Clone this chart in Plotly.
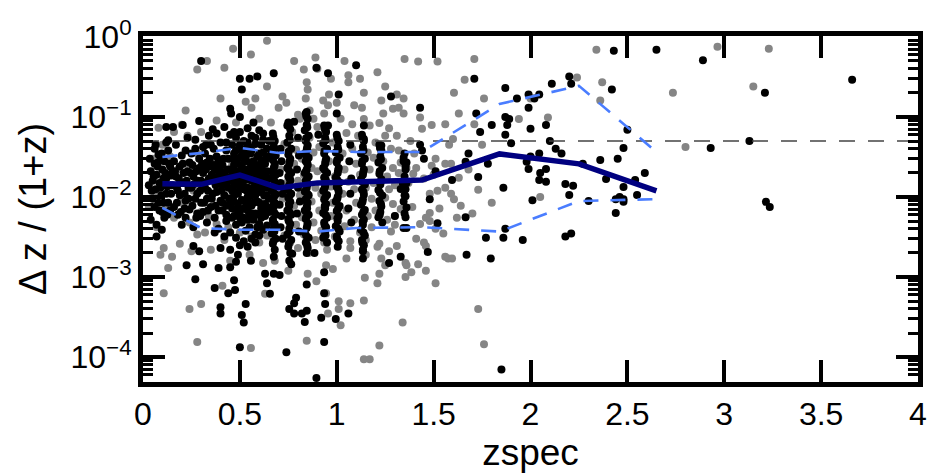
import plotly.graph_objects as go

# ---------------- data ----------------
# binned statistics (zspec, dz/(1+z))
bin_z = [0.1, 0.3, 0.5, 0.7, 0.9, 1.1, 1.44, 1.84, 2.25, 2.65]
median_dz = [0.0146, 0.0144, 0.0188, 0.0130, 0.0150, 0.0154, 0.0163, 0.0345, 0.0259, 0.0119]
upper_dz = [0.0316, 0.0355, 0.041, 0.0355, 0.0376, 0.0365, 0.0365, 0.145, 0.244, 0.0365]
lower_dz = [0.0073, 0.0041, 0.0039, 0.0039, 0.0037, 0.0041, 0.0042, 0.0037, 0.0089, 0.0094]

outlier_z = [0, 4]
outlier_dz = [0.05, 0.05]

# grey sample points (zspec, dz/(1+z))
grey_points = [
(0.465,0.71),(0.557,0.60),(0.33,0.50),(0.28,0.39),(0.42,0.41),(0.40,0.17),(0.22,0.12),(0.53,0.155),(0.58,0.17),(0.56,0.13),
(0.64,0.24),(0.08,0.073),(0.23,0.058),(0.107,0.0023),(0.107,0.00063),(0.24,0.0004),(0.30,0.00046),(0.28,0.000155),(0.557,0.00013),
(0.63,0.00062),(0.41,0.00078),(0.78,0.5),(0.89,0.55),(1.04,0.5),(0.90,0.40),(0.83,0.39),(1.06,0.33),(1.06,0.27),(1.21,0.36),
(0.845,0.27),(0.85,0.22),(0.84,0.17),(0.93,0.16),(0.955,0.14),(0.935,0.11),(1.14,0.2),(1.25,0.24),(0.74,0.15),(1.09,0.14),
(1.14,0.094),(1.08,0.081),(1.24,0.11),(1.22,0.084),(1.25,0.058),(0.80,0.106),(0.945,0.071),(0.93,0.06),(0.845,0.003),(0.935,0.0027),
(0.855,0.002),(0.945,0.0014),(0.98,0.00126),(0.895,0.00089),(0.945,0.00063),(1.07,0.0023),(1.15,0.0029),(1.23,0.0017),(1.25,0.0014),
(1.22,0.0011),(1.21,0.00084),(1.145,0.00098),(1.14,0.00051),(1.01,0.0005),(1.01,0.0004),(0.955,0.00035),(1.02,0.00025),(1.07,0.00047),
(0.845,0.00016),(1.22,0.00014),(1.14,0.000094),(1.17,0.000094),(0.64,0.89),(1.29,0.126),
(1.35,0.53),(1.42,0.49),(1.52,0.49),(1.71,0.53),(1.66,0.29),(1.605,0.20),(1.76,0.17),(1.31,0.19),(1.345,0.17),(1.32,0.13),
(1.345,0.11),(1.43,0.098),(1.44,0.071),(1.49,0.079),(1.56,0.081),(1.63,0.11),(1.71,0.081),(1.31,0.058),(1.60,0.053),(1.94,0.094),
(1.32,0.038),(1.33,0.027),(1.36,0.023),(1.32,0.02),(1.395,0.0195),(1.37,0.015),(1.41,0.023),(1.49,0.0245),(1.51,0.03),(1.56,0.026),
(1.59,0.026),(1.52,0.012),(1.56,0.013),(1.59,0.011),(1.48,0.011),(1.605,0.0094),(1.48,0.0063),(1.46,0.0055),(1.48,0.005),(1.64,0.0078),
(1.70,0.0062),(1.63,0.0174),(1.73,0.0123),(1.39,0.0075),(1.33,0.0071),(1.30,0.0058),(1.43,0.0046),(1.51,0.004),(1.41,0.003),(1.45,0.0027),
(1.46,0.00245),(1.31,0.00245),(1.56,0.0018),(1.575,0.0017),(1.595,0.0017),(1.355,0.0015),(1.36,0.0014),(1.42,0.00145),(1.385,0.00115),
(1.355,0.001),(1.46,0.0012),(1.51,0.00084),(1.73,0.0004),(1.34,0.00027),(1.76,0.000145),
(2.34,0.69),(2.24,0.31),(2.37,0.27),(2.36,0.16),(2.0,0.17),(2.09,0.098),(2.05,0.01),(2.965,0.75),(3.23,0.71),(2.735,0.20),(3.15,0.24),(2.80,0.042),
(0.05,0.03),(0.07,0.011),(0.1,0.045),(0.12,0.0075),(0.14,0.032),(0.16,0.0055),(0.18,0.022),(0.2,0.0085),(0.22,0.026),(0.24,0.0048),
(0.26,0.012),(0.28,0.035),(0.3,0.0065),(0.32,0.0036),(0.34,0.0115),(0.36,0.03),(0.38,0.0046),(0.4,0.0155),(0.42,0.0029),(0.44,0.0098),
(0.46,0.025),(0.48,0.0062),(0.5,0.0036),(0.52,0.014),(0.54,0.0052),(0.56,0.0032),(0.58,0.018),(0.6,0.0027),(0.62,0.0088),(0.64,0.0033),
(0.13,0.0013),(0.15,0.0018),(0.19,0.0026),(0.25,0.0021),(0.35,0.0022),(0.45,0.0016),(0.55,0.0019),(0.62,0.0015),(0.2,0.08),(0.3,0.065),
(0.38,0.09),(0.48,0.085),(0.6,0.095),(0.07,0.0042),(0.09,0.0019),(0.03,0.0075),(0.16,0.065),(0.44,0.0042),(0.34,0.0058),(0.28,0.0034),
(0.66,0.085),(0.69,0.0042),(0.70,0.13),(0.71,0.022),(0.72,0.0095),(0.73,0.046),(0.73,0.0033),(0.74,0.015),(0.76,0.0027),(0.77,0.065),
(0.78,0.026),(0.78,0.0078),(0.79,0.0045),(0.79,0.039),(0.80,0.016),(0.80,0.0023),(0.81,0.095),(0.81,0.0105),(0.82,0.03),(0.82,0.0056),
(0.83,0.019),(0.83,0.0034),(0.86,0.12),(0.86,0.055),(0.87,0.023),(0.87,0.0088),(0.88,0.0048),(0.88,0.036),(0.89,0.013),(0.89,0.0029),
(0.90,0.075),(0.90,0.021),(0.91,0.0068),(0.91,0.042),(0.92,0.011),(0.92,0.0038),(0.96,0.19),(0.96,0.028),(0.97,0.0135),(0.97,0.0058),
(0.98,0.048),(0.98,0.0085),(0.99,0.0032),(0.99,0.018),(1.02,0.095),(1.03,0.035),(1.03,0.011),(1.04,0.0043),(1.04,0.022),(1.05,0.063),
(1.05,0.0068),(1.06,0.0155),(1.07,0.0028),(1.08,0.04),(1.09,0.0125),(1.09,0.0052),(1.10,0.026),(1.10,0.0085),(1.11,0.058),(1.12,0.0036),
(1.12,0.019),(1.15,0.013),(1.16,0.036),(1.16,0.0058),(1.17,0.078),(1.17,0.022),(1.18,0.0095),(1.18,0.0042),(1.19,0.031),(1.19,0.015),
(1.20,0.0068),(1.20,0.048),(1.21,0.0024),(1.24,0.028),(1.25,0.0098),(1.26,0.018),(1.26,0.0052),(1.27,0.072),(1.27,0.0125),(1.28,0.0037),
(1.28,0.04),(1.29,0.0082),(1.29,0.023),(1.30,0.014),(1.30,0.0045),(0.68,0.0016),(0.75,0.0012),(0.85,0.0011),(0.95,0.0022),(1.05,0.0017),
(1.15,0.0019),(1.22,0.0026),(1.27,0.0021),(0.72,0.18),(0.88,0.095),(1.0,0.15),(1.13,0.13),(1.23,0.16),(0.97,0.3),(1.12,0.3),
(1.38,0.05),(1.4,0.035),(1.45,0.017),(1.5,0.019),(1.53,0.0072),(1.55,0.0035),(1.58,0.045),(1.62,0.0055),(1.68,0.022),(1.75,0.045),(1.8,0.0085),
]

# black sample points (zspec, dz/(1+z))
black_points = [
# sparse points
(0.30,0.50),(0.50,0.30),(0.55,0.30),(0.59,0.32),(0.51,0.22),(0.45,0.126),(0.455,0.11),(0.50,0.10),(0.29,0.089),(0.205,0.079),
(0.155,0.075),(0.12,0.075),(0.13,0.051),(0.077,0.027),(0.097,0.035),(0.097,0.0039),(0.07,0.0032),(0.26,0.00245),(0.29,0.0021),(0.40,0.0023),
(0.45,0.0022),(0.49,0.0019),(0.225,0.0014),(0.31,0.00145),(0.39,0.0013),(0.45,0.00133),(0.48,0.00155),(0.557,0.0016),(0.63,0.0011),(0.27,0.00094),
(0.47,0.00091),(0.475,0.00069),(0.44,0.00063),(0.37,0.00073),(0.40,0.00042),(0.40,0.00035),(0.53,0.00046),(0.51,0.000335),(0.52,0.00027),(0.50,0.000133),
(0.64,0.00084),(0.675,0.35),(0.895,0.41),(0.955,0.35),(1.10,0.44),(1.01,0.19),(1.28,0.18),(0.845,0.115),(1.0,0.11),(0.745,0.078),
(0.78,0.087),(0.955,0.078),(0.905,0.06),(1.14,0.078),(1.14,0.053),(1.23,0.044),(0.845,0.00081),(0.79,0.00055),(0.78,0.00047),(0.755,0.0004),
(0.78,0.00035),(0.82,0.00035),(0.845,0.00038),(0.835,0.000275),(0.935,0.00063),(0.94,0.00046),(0.92,0.00031),(0.995,0.0003),(1.06,0.00035),(0.655,0.00062),
(0.705,0.00106),(0.675,0.0011),(0.765,0.00145),(0.77,0.00195),(0.935,0.00115),(0.885,0.002),(1.135,0.0022),(1.135,0.0017),(1.27,0.0015),(0.935,0.000155),
(0.74,0.000115),(0.895,0.000055),
(1.71,0.30),(1.87,0.23),(1.93,0.17),(1.43,0.13),(1.72,0.11),(1.80,0.079),(1.74,0.065),(1.87,0.1),(1.89,0.094),(1.88,0.079),
(1.87,0.06),(1.90,0.047),(1.43,0.045),(1.44,0.038),(1.45,0.03),(1.36,0.027),(1.345,0.031),(1.355,0.024),(1.68,0.035),(1.665,0.0275),
(1.78,0.026),(1.51,0.021),(1.73,0.0178),(1.595,0.0163),(1.33,0.0126),(1.355,0.0102),(1.36,0.015),(1.48,0.0094),(1.86,0.013),(1.30,0.0058),
(1.355,0.0056),(1.665,0.0056),(1.52,0.0047),(1.345,0.0041),(1.36,0.0041),(1.47,0.00205),(1.33,0.0018),(1.67,0.0019),(1.795,0.0017),(1.77,0.0031),
(1.86,0.0031),(1.87,0.004),(1.96,0.0029),(1.85,0.00007),
(2.43,0.67),(2.65,0.69),(2.20,0.32),(2.21,0.26),(2.11,0.26),(2.42,0.22),(1.99,0.19),(2.02,0.17),(2.045,0.19),(1.99,0.13),
(2.08,0.079),(2.0,0.071),(2.5,0.069),(2.10,0.05),(2.48,0.041),(2.13,0.04),(2.16,0.035),(2.045,0.035),(2.0,0.032),(1.98,0.0275),
(1.99,0.0224),(2.08,0.0224),(2.05,0.02),(2.045,0.0163),(2.08,0.0155),(2.36,0.029),(2.45,0.03),(2.27,0.026),(2.39,0.0168),(2.59,0.02),
(2.54,0.0163),(2.18,0.0145),(2.22,0.0138),(2.20,0.0106),(2.01,0.0091),(2.30,0.0089),(2.44,0.0094),(2.46,0.01),(2.48,0.0094),(2.48,0.0087),
(2.48,0.0133),(2.55,0.0106),(2.44,0.0063),(2.18,0.0032),(2.21,0.0035),
(2.89,0.51),(3.66,0.29),(3.21,0.2),(3.13,0.05),(2.93,0.041),(3.215,0.0087),(3.235,0.0075),
# dense low-z clump
(0.04,0.021),(0.05,0.016),(0.045,0.012),(0.06,0.026),(0.07,0.019),(0.08,0.034),(0.065,0.045),(0.09,0.013),(0.10,0.022),(0.11,0.028),
(0.12,0.017),(0.05,0.0095),(0.06,0.0075),(0.08,0.0085),(0.10,0.0065),(0.04,0.0052),(0.07,0.0045),(0.12,0.011),(0.13,0.038),(0.14,0.024),
(0.15,0.014),(0.09,0.031),(0.11,0.0055),(0.13,0.0085),(0.06,0.04),(0.14,0.0068),(0.03,0.014),(0.035,0.03),(0.15,0.02),(0.12,0.048),
(0.16,0.028),(0.17,0.018),(0.18,0.012),(0.19,0.024),(0.2,0.033),(0.21,0.015),(0.22,0.009),(0.23,0.021),(0.24,0.027),(0.25,0.013),
(0.26,0.018),(0.27,0.04),(0.28,0.011),(0.29,0.023),(0.3,0.016),(0.16,0.0075),(0.18,0.006),(0.2,0.0045),(0.22,0.0055),(0.24,0.007),
(0.26,0.0042),(0.28,0.0062),(0.3,0.0085),(0.17,0.045),(0.23,0.055),(0.25,0.035),(0.19,0.0105),(0.27,0.0095),(0.29,0.03),(0.21,0.02),
(0.27,0.052),(0.22,0.038),
(0.31,0.02),(0.32,0.013),(0.33,0.027),(0.34,0.017),(0.35,0.045),(0.36,0.011),(0.37,0.022),(0.38,0.032),(0.39,0.015),(0.4,0.009),
(0.41,0.025),(0.42,0.019),(0.43,0.038),(0.44,0.013),(0.45,0.06),(0.31,0.0065),(0.33,0.0048),(0.35,0.0075),(0.37,0.0055),(0.39,0.004),
(0.41,0.0068),(0.43,0.005),(0.45,0.0085),(0.32,0.035),(0.34,0.058),(0.36,0.07),(0.38,0.062),(0.4,0.048),(0.42,0.075),(0.44,0.03),
(0.33,0.0095),(0.36,0.016),(0.38,0.0115),(0.4,0.021),(0.42,0.0105),(0.44,0.0175),(0.35,0.024),(0.41,0.014),(0.43,0.0078),(0.31,0.042),
(0.39,0.028),(0.45,0.022),(0.37,0.0036),(0.42,0.0032),
(0.46,0.02),(0.47,0.014),(0.48,0.026),(0.49,0.011),(0.5,0.017),(0.51,0.033),(0.52,0.009),(0.53,0.022),(0.54,0.013),(0.55,0.042),
(0.56,0.016),(0.57,0.028),(0.58,0.0105),(0.59,0.019),(0.6,0.024),(0.61,0.012),(0.62,0.036),(0.63,0.015),(0.64,0.021),(0.65,0.0095),
(0.46,0.0072),(0.47,0.0058),(0.48,0.0045),(0.49,0.0082),(0.5,0.0065),(0.51,0.0048),(0.52,0.0055),(0.53,0.0038),(0.54,0.0068),(0.55,0.0042),
(0.56,0.0078),(0.57,0.0052),(0.58,0.0034),(0.59,0.0061),(0.6,0.0046),(0.61,0.0072),(0.62,0.0039),(0.63,0.0058),(0.64,0.0044),
(0.46,0.045),(0.48,0.055),(0.5,0.065),(0.52,0.05),(0.54,0.072),(0.56,0.058),(0.58,0.046),(0.6,0.068),(0.62,0.052),(0.64,0.04),
(0.47,0.035),(0.49,0.03),(0.51,0.025),(0.53,0.031),(0.55,0.027),(0.57,0.02),(0.59,0.032),(0.61,0.029),(0.63,0.026),
(0.46,0.012),(0.48,0.016),(0.5,0.0135),(0.52,0.018),(0.54,0.01),(0.56,0.023),(0.58,0.014),(0.6,0.0115),(0.62,0.017),(0.64,0.013),
(0.47,0.0088),(0.51,0.0092),(0.55,0.0085),(0.59,0.0088),(0.63,0.0082),(0.48,0.0031),(0.52,0.0028),(0.56,0.003),(0.6,0.0033),(0.5,0.0025),
(0.54,0.0024),(0.58,0.0027),
(0.385,0.018),(0.395,0.024),(0.405,0.012),(0.415,0.03),(0.425,0.015),(0.435,0.022),(0.445,0.0095),(0.455,0.016),(0.465,0.03),(0.475,0.021),
(0.485,0.0115),(0.495,0.04),(0.505,0.022),(0.515,0.015),(0.525,0.028),(0.535,0.012),(0.545,0.019),(0.555,0.035),(0.565,0.0125),(0.575,0.016),
(0.585,0.025),(0.595,0.014),(0.605,0.018),(0.615,0.022),(0.625,0.0105),(0.635,0.03),(0.645,0.017),(0.39,0.0068),(0.41,0.0085),(0.43,0.006),
(0.47,0.0105),(0.49,0.0068),(0.53,0.0075),(0.57,0.0085),(0.61,0.0055),(0.65,0.0065),(0.45,0.0036),(0.55,0.0058),(0.59,0.0042),(0.43,0.048),
(0.47,0.065),(0.53,0.04),(0.57,0.085),(0.61,0.045),(0.65,0.05),
(0.055,0.018),(0.075,0.024),(0.085,0.015),(0.095,0.0105),(0.105,0.017),(0.115,0.02),(0.125,0.0135),(0.135,0.026),(0.145,0.011),(0.065,0.0125),
(0.085,0.0068),(0.105,0.0085),(0.125,0.006),(0.145,0.0185),
(0.165,0.021),(0.175,0.013),(0.185,0.017),(0.195,0.015),(0.205,0.026),(0.215,0.011),(0.225,0.016),(0.235,0.013),(0.245,0.02),(0.255,0.025),
(0.265,0.0145),(0.275,0.021),(0.285,0.016),(0.295,0.012),(0.175,0.0085),(0.195,0.0065),(0.215,0.0072),(0.235,0.0095),(0.255,0.0078),(0.275,0.0055),
(0.295,0.0058),
(0.305,0.026),(0.315,0.015),(0.325,0.022),(0.335,0.012),(0.345,0.03),(0.355,0.019),(0.365,0.025),(0.375,0.014),(0.315,0.0085),(0.335,0.0068),
(0.355,0.0095),(0.375,0.0078),(0.325,0.045),(0.365,0.04),
(0.46,0.0165),(0.48,0.0195),(0.5,0.021),(0.52,0.0125),(0.54,0.0165),(0.56,0.0105),(0.58,0.021),(0.6,0.0145),(0.62,0.0135),(0.64,0.0105),
(0.47,0.025),(0.51,0.019),(0.55,0.0215),(0.59,0.0225),(0.63,0.019),(0.49,0.015),(0.53,0.017),(0.57,0.013),(0.61,0.0165),(0.5,0.0055),
(0.54,0.0052),(0.58,0.0062),(0.62,0.0068),(0.46,0.0055),(0.52,0.0072),(0.56,0.0062),(0.6,0.0085),(0.64,0.0075),(0.48,0.038),(0.52,0.036),
(0.56,0.038),(0.6,0.035),(0.64,0.032),(0.5,0.045),(0.54,0.048),(0.58,0.055),(0.62,0.062),
# redshift spikes
(0.67,0.062),(0.68,0.05),(0.675,0.043),(0.665,0.037),(0.685,0.033),(0.67,0.029),(0.68,0.026),(0.675,0.023),(0.665,0.021),(0.685,0.019),
(0.67,0.017),(0.68,0.015),(0.675,0.0135),(0.665,0.012),(0.685,0.0108),(0.67,0.0095),(0.68,0.0085),(0.675,0.0076),(0.665,0.0067),(0.685,0.006),
(0.67,0.0052),(0.68,0.0046),(0.675,0.004),(0.665,0.0035),(0.685,0.003),(0.67,0.0026),(0.68,0.0022),(0.675,0.0018),
(0.673,0.056),(0.678,0.04),(0.672,0.031),(0.679,0.0245),(0.671,0.02),(0.677,0.016),(0.672,0.0127),(0.678,0.0102),(0.673,0.008),(0.677,0.0064),
(0.672,0.0049),(0.678,0.0037),(0.673,0.0028),
(0.71,0.04),(0.715,0.028),(0.705,0.02),(0.71,0.015),(0.72,0.011),(0.705,0.008),(0.715,0.0058),(0.71,0.0042),(0.72,0.003),
(0.75,0.085),(0.76,0.07),(0.755,0.058),(0.745,0.048),(0.765,0.04),(0.75,0.034),(0.76,0.03),(0.755,0.026),(0.745,0.023),(0.765,0.02),
(0.75,0.018),(0.76,0.016),(0.755,0.014),(0.745,0.0125),(0.765,0.011),(0.75,0.0098),(0.76,0.0087),(0.755,0.0077),(0.745,0.0068),(0.765,0.006),
(0.75,0.0053),(0.76,0.0046),(0.755,0.004),(0.745,0.0034),(0.765,0.0029),(0.75,0.0024),(0.76,0.002),(0.755,0.0016),
(0.753,0.078),(0.758,0.052),(0.752,0.037),(0.757,0.028),(0.753,0.0215),(0.758,0.017),(0.752,0.0132),(0.757,0.0104),(0.753,0.0082),(0.758,0.0064),
(0.752,0.005),(0.757,0.0037),(0.753,0.0026),
(0.80,0.055),(0.805,0.033),(0.795,0.022),(0.80,0.013),(0.81,0.0088),(0.795,0.0062),(0.805,0.0037),
(0.84,0.11),(0.85,0.095),(0.845,0.08),(0.835,0.068),(0.855,0.058),(0.84,0.05),(0.85,0.044),(0.845,0.039),(0.835,0.035),(0.855,0.031),
(0.84,0.028),(0.85,0.025),(0.845,0.022),(0.835,0.02),(0.855,0.018),(0.84,0.016),(0.85,0.0145),(0.845,0.013),(0.835,0.0117),(0.855,0.0105),
(0.84,0.0094),(0.85,0.0085),(0.845,0.0076),(0.835,0.0068),(0.855,0.006),(0.84,0.0053),(0.85,0.0047),(0.845,0.0041),(0.835,0.0036),(0.855,0.0031),
(0.84,0.0027),(0.85,0.0023),(0.845,0.002),
(0.843,0.102),(0.848,0.074),(0.842,0.054),(0.847,0.041),(0.843,0.033),(0.848,0.0265),(0.842,0.021),(0.847,0.017),(0.843,0.0137),(0.848,0.011),
(0.842,0.009),(0.847,0.0072),(0.843,0.0056),(0.848,0.0044),(0.842,0.0033),(0.847,0.0025),
(0.935,0.078),(0.945,0.065),(0.94,0.055),(0.93,0.047),(0.95,0.04),(0.935,0.035),(0.945,0.03),(0.94,0.026),(0.93,0.023),(0.95,0.02),
(0.935,0.0175),(0.945,0.0155),(0.94,0.0137),(0.93,0.012),(0.95,0.0106),(0.935,0.0093),(0.945,0.0082),(0.94,0.0072),(0.93,0.0063),(0.95,0.0055),
(0.935,0.0048),(0.945,0.0042),(0.94,0.0036),(0.93,0.0031),(0.95,0.0027),
(0.938,0.071),(0.943,0.051),(0.937,0.0375),(0.942,0.028),(0.938,0.0215),(0.943,0.0165),(0.937,0.0128),(0.942,0.01),(0.938,0.0077),(0.943,0.0059),
(0.937,0.0045),(0.942,0.0033),
(1.0,0.06),(1.01,0.05),(1.005,0.042),(0.995,0.036),(1.015,0.031),(1.0,0.027),(1.01,0.023),(1.005,0.02),(0.995,0.0175),(1.015,0.0152),
(1.0,0.0133),(1.01,0.0116),(1.005,0.0101),(0.995,0.0088),(1.015,0.0077),(1.0,0.0067),(1.01,0.0058),(1.005,0.005),(0.995,0.0043),(1.015,0.0037),
(1.0,0.0032),(1.01,0.0028),(1.005,0.0024),
(1.003,0.055),(1.008,0.039),(1.002,0.029),(1.007,0.0215),(1.003,0.0163),(1.008,0.0125),(1.002,0.0094),(1.007,0.0072),(1.003,0.0054),(1.008,0.004),
(1.002,0.003),
(1.07,0.045),(1.065,0.028),(1.075,0.017),(1.07,0.011),(1.06,0.0072),(1.075,0.0048),
(1.13,0.06),(1.14,0.05),(1.135,0.042),(1.125,0.035),(1.145,0.03),(1.13,0.026),(1.14,0.022),(1.135,0.019),(1.125,0.0165),(1.145,0.0143),
(1.13,0.0124),(1.14,0.0107),(1.135,0.0093),(1.125,0.008),(1.145,0.0069),(1.13,0.006),(1.14,0.0052),(1.135,0.0045),(1.125,0.0039),(1.145,0.0033),
(1.13,0.0029),(1.14,0.0025),(1.135,0.0021),
(1.133,0.055),(1.138,0.038),(1.132,0.028),(1.137,0.0205),(1.133,0.0154),(1.138,0.0115),(1.132,0.0086),(1.137,0.0065),(1.133,0.0049),(1.138,0.0036),
(1.132,0.0027),
(1.22,0.045),(1.23,0.038),(1.225,0.032),(1.215,0.027),(1.235,0.023),(1.22,0.0195),(1.23,0.0167),(1.225,0.0143),(1.215,0.0122),(1.235,0.0104),
(1.22,0.0089),(1.23,0.0076),(1.225,0.0065),(1.215,0.0056),(1.235,0.0048),
(1.223,0.041),(1.228,0.0295),(1.222,0.021),(1.227,0.0155),(1.223,0.0113),(1.228,0.0082),(1.222,0.006),
(1.35,0.035),(1.345,0.028),(1.355,0.022),(1.35,0.018),(1.34,0.015),(1.355,0.0125),(1.35,0.0105),(1.345,0.0088),(1.36,0.0074),(1.35,0.0062),
]

x_tick_vals = [0, 0.5, 1, 1.5, 2, 2.5, 3, 3.5, 4]
x_tick_text = ["0", "0.5", "1", "1.5", "2", "2.5", "3", "3.5", "4"]
y_tick_vals = [1, 0.1, 0.01, 0.001, 0.0001]
y_tick_text = ["10<sup>0</sup>", "10<sup>\u22121</sup>", "10<sup>\u22122</sup>",
               "10<sup>\u22123</sup>", "10<sup>\u22124</sup>"]

# ---------------- figure ----------------
FONT = "Liberation Sans, Arial, Helvetica, sans-serif"
grey_z, grey_dz = zip(*grey_points)
black_z, black_dz = zip(*black_points)

fig = go.Figure()
fig.add_trace(go.Scatter(x=grey_z, y=grey_dz, mode="markers",
                         marker=dict(color="#858585", size=8, line=dict(width=0)),
                         showlegend=False, hoverinfo="skip"))
fig.add_trace(go.Scatter(x=black_z, y=black_dz, mode="markers",
                         marker=dict(color="#000000", size=8, line=dict(width=0)),
                         showlegend=False, hoverinfo="skip"))
fig.add_trace(go.Scatter(x=outlier_z, y=outlier_dz, mode="lines",
                         line=dict(color="#444444", width=1.6, dash="16px,13px"),
                         showlegend=False, hoverinfo="skip"))
fig.add_trace(go.Scatter(x=bin_z, y=upper_dz, mode="lines",
                         line=dict(color="#4a7dff", width=2.6, dash="15px,12px"),
                         showlegend=False, hoverinfo="skip"))
fig.add_trace(go.Scatter(x=bin_z, y=lower_dz, mode="lines",
                         line=dict(color="#4a7dff", width=2.6, dash="15px,12px"),
                         showlegend=False, hoverinfo="skip"))
fig.add_trace(go.Scatter(x=bin_z, y=median_dz, mode="lines",
                         line=dict(color="#000080", width=5.5),
                         showlegend=False, hoverinfo="skip"))

fig.update_layout(
    width=939, height=475,
    margin=dict(l=143, r=13, t=36, b=93),
    paper_bgcolor="white", plot_bgcolor="white",
    font=dict(family=FONT, color="black", size=32),
    showlegend=False,
)
fig.update_xaxes(
    range=[0, 4], tickmode="array", tickvals=x_tick_vals, ticktext=x_tick_text,
    showgrid=False, zeroline=False,
    showline=True, linewidth=5, linecolor="black", mirror="allticks",
    ticks="inside", ticklen=22, tickwidth=4, tickcolor="black",
    tickfont=dict(size=32, family=FONT),
    title=dict(text="zspec", font=dict(size=37, family=FONT), standoff=2),
)
fig.update_yaxes(
    type="log", range=[-4.31, 0.01], tickmode="array",
    tickvals=y_tick_vals, ticktext=y_tick_text,
    showgrid=False, zeroline=False,
    showline=True, linewidth=5, linecolor="black", mirror="allticks",
    ticks="inside", ticklen=22, tickwidth=4, tickcolor="black",
    minor=dict(ticks="inside", ticklen=10, tickwidth=3, tickcolor="black", dtick="D1", showgrid=False),
    tickfont=dict(size=32, family=FONT),
    title=dict(text="\u0394 z / (1+z)", font=dict(size=38, family=FONT), standoff=14),
)

fig.write_html("out.html")
